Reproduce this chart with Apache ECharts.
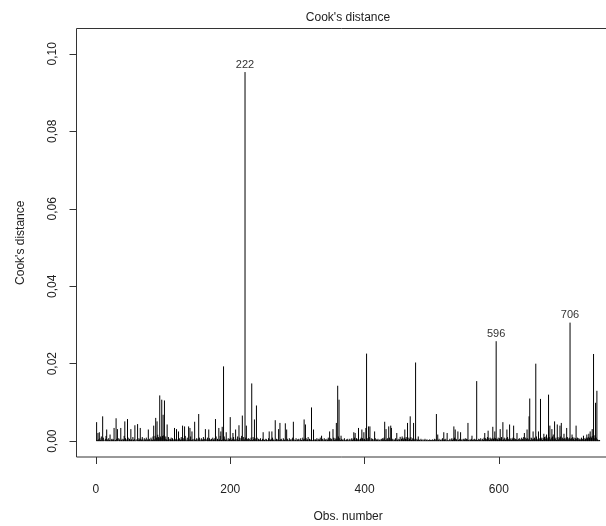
<!DOCTYPE html>
<html><head><meta charset="utf-8">
<script src="https://cdn.jsdelivr.net/npm/echarts@6/dist/echarts.min.js"></script>
<style>html,body{margin:0;padding:0;background:#fff}#c{width:606px;height:526px}</style>
</head><body><div id="c"></div>
<script>
// Background (small) Cook's distances, in units of 1.5e-4, obs 1..750
const baselineUnit = 1.5e-4;
const baseline = [
4,2,7,3,1,5,2,8,1,3,6,2,0,4,9,2,3,1,5,2,7,1,3,4,2,
3,6,1,2,8,4,2,0,5,3,1,7,2,4,1,3,9,2,5,1,3,2,6,1,4,
2,5,3,1,7,2,4,8,1,3,0,6,2,5,3,1,4,2,7,3,1,5,2,3,6,
1,3,7,2,4,1,6,3,2,8,5,3,9,4,6,2,11,7,5,12,8,6,13,9,7,
10,6,4,8,3,5,2,7,1,4,3,6,2,5,1,3,8,2,4,6,1,3,2,5,4,
2,7,3,1,5,2,4,9,3,1,6,2,4,3,1,8,2,5,3,1,4,7,2,3,5,
1,4,2,6,3,1,5,2,3,7,1,4,2,0,3,6,2,1,5,3,2,4,1,6,3,
2,5,3,8,1,4,2,6,3,9,4,2,7,3,5,8,4,2,6,3,1,5,2,4,3,
6,2,4,1,7,3,2,5,1,4,8,2,3,6,1,5,9,4,2,7,3,11,6,2,4,
3,5,1,4,2,6,3,2,7,4,1,5,3,2,6,1,4,2,3,5,1,2,4,1,3,
2,1,4,3,1,2,5,1,3,2,4,1,6,2,3,1,5,2,4,3,1,6,2,1,3,
4,2,1,5,3,2,6,1,3,4,2,1,5,2,3,1,4,6,2,3,1,2,5,1,3,
2,4,1,3,5,2,1,6,3,2,4,1,5,2,3,7,1,4,2,3,5,1,2,4,3,
1,3,2,5,1,4,2,3,6,1,2,4,3,1,5,2,3,1,4,2,6,3,1,5,2,
4,1,3,6,2,5,3,7,4,2,8,3,5,2,1,4,2,3,1,5,2,1,3,2,4,
1,2,4,1,3,5,2,4,1,6,3,2,5,4,2,7,3,1,4,6,2,5,3,8,4,
2,6,3,5,2,4,7,3,1,5,2,4,1,3,2,5,1,3,2,4,1,2,3,1,4,
2,5,3,6,4,2,7,3,5,2,4,6,3,8,5,2,4,1,3,2,5,1,3,2,4,
1,3,2,1,4,2,5,3,6,2,4,7,3,5,2,6,4,3,7,2,5,3,6,2,4,
3,1,4,2,1,3,2,1,4,2,1,3,1,2,4,1,2,3,1,2,1,3,2,1,2,
3,1,2,4,1,3,2,1,3,2,4,1,2,3,1,5,2,1,3,2,4,1,3,2,1,
2,4,1,3,5,2,4,3,6,2,4,3,1,5,2,3,4,1,2,3,1,4,2,3,5,
2,4,3,5,2,1,3,2,4,1,2,3,1,4,2,3,5,2,1,4,3,2,5,1,3,
4,2,6,3,5,2,4,7,3,5,2,6,4,3,5,2,4,6,3,5,2,4,3,6,2,
5,3,4,7,2,5,3,6,4,2,5,3,7,4,2,6,3,5,2,4,6,3,5,2,4,
3,6,2,4,1,5,3,2,6,4,3,7,5,2,6,4,8,5,3,7,4,2,6,5,3,
7,4,6,3,5,8,4,2,6,5,3,7,4,6,2,5,3,7,4,8,5,3,6,4,7,
5,3,6,4,8,5,3,7,4,6,2,5,7,3,6,4,8,5,3,6,4,7,5,3,6,
4,7,5,3,6,8,4,5,3,7,4,6,2,5,3,4,6,2,5,3,4,2,6,3,4,
3,5,2,4,6,3,5,7,4,6,5,8,6,4,9,7,5,10,8,6,4,3,2,1,2
];
// Visible spikes: observation number and Cook's distance
const spikeObs = [1,3,5,10,16,21,27,30,32,37,43,47,52,58,62,66,78,86,89,91,95,98,100,102,106,
117,120,123,129,132,138,140,143,147,153,163,168,178,183,186,188,190,194,200,204,208,213,218,222,224,
232,236,239,249,258,262,267,272,274,282,284,294,310,312,321,324,336,348,353,358,360,362,365,384,386,
391,396,399,402,403,406,408,415,430,432,436,439,440,448,453,456,460,464,468,473,476,480,507,509,518,
523,533,535,539,543,554,560,567,579,584,591,594,596,602,606,612,616,622,627,638,642,645,646,651,655,
659,662,667,671,674,676,679,681,683,687,691,693,697,701,706,709,715,726,731,734,736,739,741,744,746];
const spikeVal = [0.0049,0.0021,0.0023,0.0064,0.0030,0.0017,0.0034,0.0059,0.0031,0.0034,0.0051,0.0057,0.0031,0.0041,0.0044,0.0034,0.0030,0.0040,0.0060,0.0051,0.0118,0.0107,0.0068,0.0105,0.0043,
0.0034,0.0031,0.0025,0.0040,0.0038,0.0038,0.0034,0.0025,0.0050,0.0070,0.0031,0.0030,0.0057,0.0034,0.0025,0.0037,0.0193,0.0023,0.0062,0.0021,0.0030,0.0041,0.0066,0.0953,0.0040,
0.0149,0.0056,0.0092,0.0023,0.0025,0.0025,0.0054,0.0031,0.0047,0.0046,0.0030,0.0050,0.0056,0.0043,0.0087,0.0030,0.0014,0.0025,0.0031,0.0047,0.0143,0.0107,0.0014,0.0023,0.0021,
0.0034,0.0030,0.0023,0.0034,0.0226,0.0038,0.0038,0.0025,0.0050,0.0031,0.0038,0.0040,0.0034,0.0021,0.0011,0.0012,0.0030,0.0047,0.0064,0.0047,0.0203,0.0012,0.0070,0.0017,0.0023,
0.0021,0.0038,0.0030,0.0025,0.0023,0.0047,0.0014,0.0155,0.0021,0.0027,0.0037,0.0025,0.0258,0.0031,0.0049,0.0030,0.0043,0.0040,0.0021,0.0021,0.0030,0.0064,0.0110,0.0025,0.0200,
0.0025,0.0109,0.0019,0.0017,0.0120,0.0040,0.0031,0.0017,0.0051,0.0043,0.0040,0.0047,0.0019,0.0034,0.0306,0.0017,0.0040,0.0014,0.0017,0.0019,0.0025,0.0031,0.0225,0.0099,0.0130];
const labelledObs = [222, 596, 706];
const xTicks = [0, 200, 400, 600];
const yTicks = [0, 0.02, 0.04, 0.06, 0.08, 0.10];

const n = baseline.length;
const cook = baseline.map(v => v * baselineUnit);
spikeObs.forEach((o, k) => { cook[o - 1] = spikeVal[k]; });
const data = cook.map((v, i) => [i + 1, v]);
const ymx = Math.max(...cook);
const yTop = ymx * 1.075;
const xPad = 0.04 * (n - 1), yPad = 0.04 * yTop;
const FF = "'Liberation Sans', Arial, sans-serif";
const TXT = '#222';

const chart = echarts.init(document.getElementById('c'), null, {renderer: 'canvas'});
chart.setOption({
  animation: false,
  backgroundColor: '#fff',
  title: {
    text: "Cook's distance", left: 348, top: 12, padding: 0, textAlign: 'center',
    textStyle: {fontSize: 12, fontWeight: 'normal', color: TXT, fontFamily: FF}
  },
  grid: {left: 76.5, top: 28.5, bottom: 69, width: 543.2, show: true, borderColor: '#333', borderWidth: 1,
    containLabel: false, outerBoundsMode: 'none'},
  xAxis: {
    type: 'value', min: 1 - xPad, max: n + xPad,
    axisLine: {show: false, onZero: false}, splitLine: {show: false},
    axisTick: {show: true, customValues: xTicks, length: 7, lineStyle: {color: '#333'}},
    axisLabel: {customValues: xTicks, margin: 27, fontSize: 12, color: TXT, fontFamily: FF},
    name: 'Obs. number', nameLocation: 'middle', nameGap: 54,
    nameTextStyle: {fontSize: 12, color: TXT, fontFamily: FF}
  },
  yAxis: {
    type: 'value', min: -yPad, max: yTop + yPad,
    axisLine: {show: false, onZero: false}, splitLine: {show: false},
    axisTick: {show: true, customValues: yTicks, length: 7, lineStyle: {color: '#333'}},
    axisLabel: {customValues: yTicks, margin: 18, rotate: 90, fontSize: 12, color: TXT, fontFamily: FF,
      formatter: v => v.toFixed(2).replace('.', ',')},
    name: "Cook's distance", nameLocation: 'middle', nameGap: 50, nameRotate: 90,
    nameTextStyle: {fontSize: 12, color: TXT, fontFamily: FF}
  },
  series: [{
    type: 'custom', silent: true, clip: true,
    data: data,
    encode: {x: 0, y: 1},
    renderItem: function (params, api) {
      const x = api.value(0), y = api.value(1);
      const p0 = api.coord([x, 0]), p1 = api.coord([x, y]);
      const children = [{type: 'line', shape: {x1: p0[0], y1: p0[1], x2: p1[0], y2: p1[1]},
        style: {stroke: '#000', lineWidth: 1}}];
      if (labelledObs.indexOf(x) >= 0) {
        children.push({type: 'text', x: p1[0], y: p1[1] - 2,
          style: {text: String(x), align: 'center', verticalAlign: 'bottom', fontSize: 11, fill: '#333', fontFamily: FF}});
      }
      return {type: 'group', children: children};
    }
  }]
});
</script></body></html>
